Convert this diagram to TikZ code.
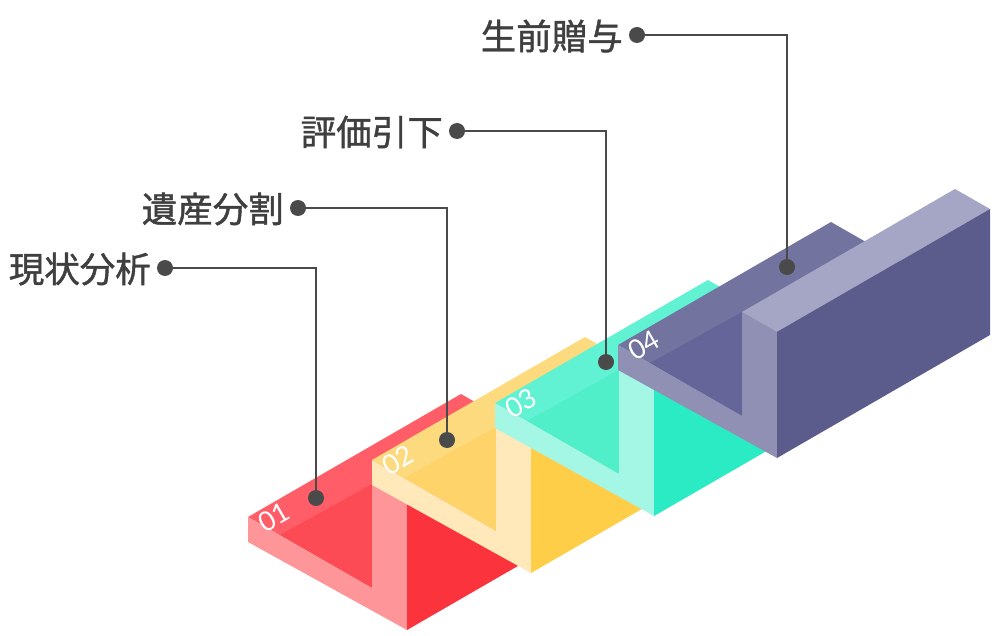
\documentclass[tikz,border=0pt]{standalone}
\usepackage{fontspec}
\newfontfamily\cjk[FakeBold=1.2]{Noto Sans CJK JP}
\newfontfamily\numf{Lato}
\definecolor{leader}{HTML}{4A4A4A}
\definecolor{txt}{HTML}{3F3F3F}
\definecolor{rA}{HTML}{FF5E69}\definecolor{rB}{HTML}{FC4B55}\definecolor{rC}{HTML}{FE9599}\definecolor{rD}{HTML}{FB333D}
\definecolor{yA}{HTML}{FDDA7E}\definecolor{yB}{HTML}{FDD36A}\definecolor{yC}{HTML}{FFE9BA}\definecolor{yD}{HTML}{FECE48}
\definecolor{gA}{HTML}{60F2D2}\definecolor{gB}{HTML}{50EFCA}\definecolor{gC}{HTML}{A4F7E4}\definecolor{gD}{HTML}{2BEBC5}
\definecolor{pA}{HTML}{7373A0}\definecolor{pB}{HTML}{65659A}\definecolor{pC}{HTML}{9090B5}\definecolor{pE}{HTML}{A5A5C5}\definecolor{pD}{HTML}{5B5B8C}
\tikzset{
  leaderline/.style={draw=leader, line width=2pt},
  dotmark/.style={fill=leader},
  label/.style={font=\cjk\fontsize{35.5}{38}\selectfont, text=txt, anchor=east, inner sep=0pt},
  numlabel/.style={font=\numf\fontsize{27}{29}\selectfont, text=white, rotate=30, inner sep=0pt}
}
% #1 x, #2 y, #3 top, #4 dark top, #5 front, #6 wall top, #7 side, #8 number
\newcommand\stepblock[8]{%
 \begin{scope}[shift={(#1,#2)}]
  \fill[#3] (0,0) -- (124,71) -- (337,-52) -- (213,-123) -- cycle;
  \fill[#4] (32,18) -- (124,-33) -- (124,71) -- cycle;
  \fill[#5] (0,0) -- (124,71) -- (124,-33) -- (159,-13) -- (159,113) -- (0,25) -- cycle;
  \fill[#6] (124,-33) -- (159,-13) -- (372,-136) -- (337,-156) -- cycle;
  \fill[#7] (159,-13) -- (372,-136) -- (372,-10) -- (159,113) -- cycle;
  \node[numlabel] (n#8) at (26,0) {#8};
 \end{scope}}
\begin{document}
\begin{tikzpicture}[x=1pt,y=-1pt]
\useasboundingbox (0,0) rectangle (1000,636);
\stepblock{248}{517}{rA}{rB}{rC}{rC}{rD}{01}
\stepblock{372}{460}{yA}{yB}{yC}{yC}{yD}{02}
\stepblock{495}{403}{gA}{gB}{gC}{gC}{gD}{03}
\stepblock{618}{345}{pA}{pB}{pC}{pE}{pD}{04}
% leaders
\coordinate (d1) at (316,498); \coordinate (e1) at (165,268);
\coordinate (d2) at (447,440); \coordinate (e2) at (298,208);
\coordinate (d3) at (606,362); \coordinate (e3) at (457,131);
\coordinate (d4) at (787,267); \coordinate (e4) at (637,35);
\foreach \i in {1,2,3,4}{
  \draw[leaderline] (d\i) |- (e\i);
  \fill[dotmark] (d\i) circle (8);
  \fill[dotmark] (e\i) circle (8);
}
\node[label] (t1) at (151,269) {現状分析};
\node[label] (t2) at (284,209) {遺産分割};
\node[label] (t3) at (443,132) {評価引下};
\node[label] (t4) at (623,36) {生前贈与};
\end{tikzpicture}
\end{document}
